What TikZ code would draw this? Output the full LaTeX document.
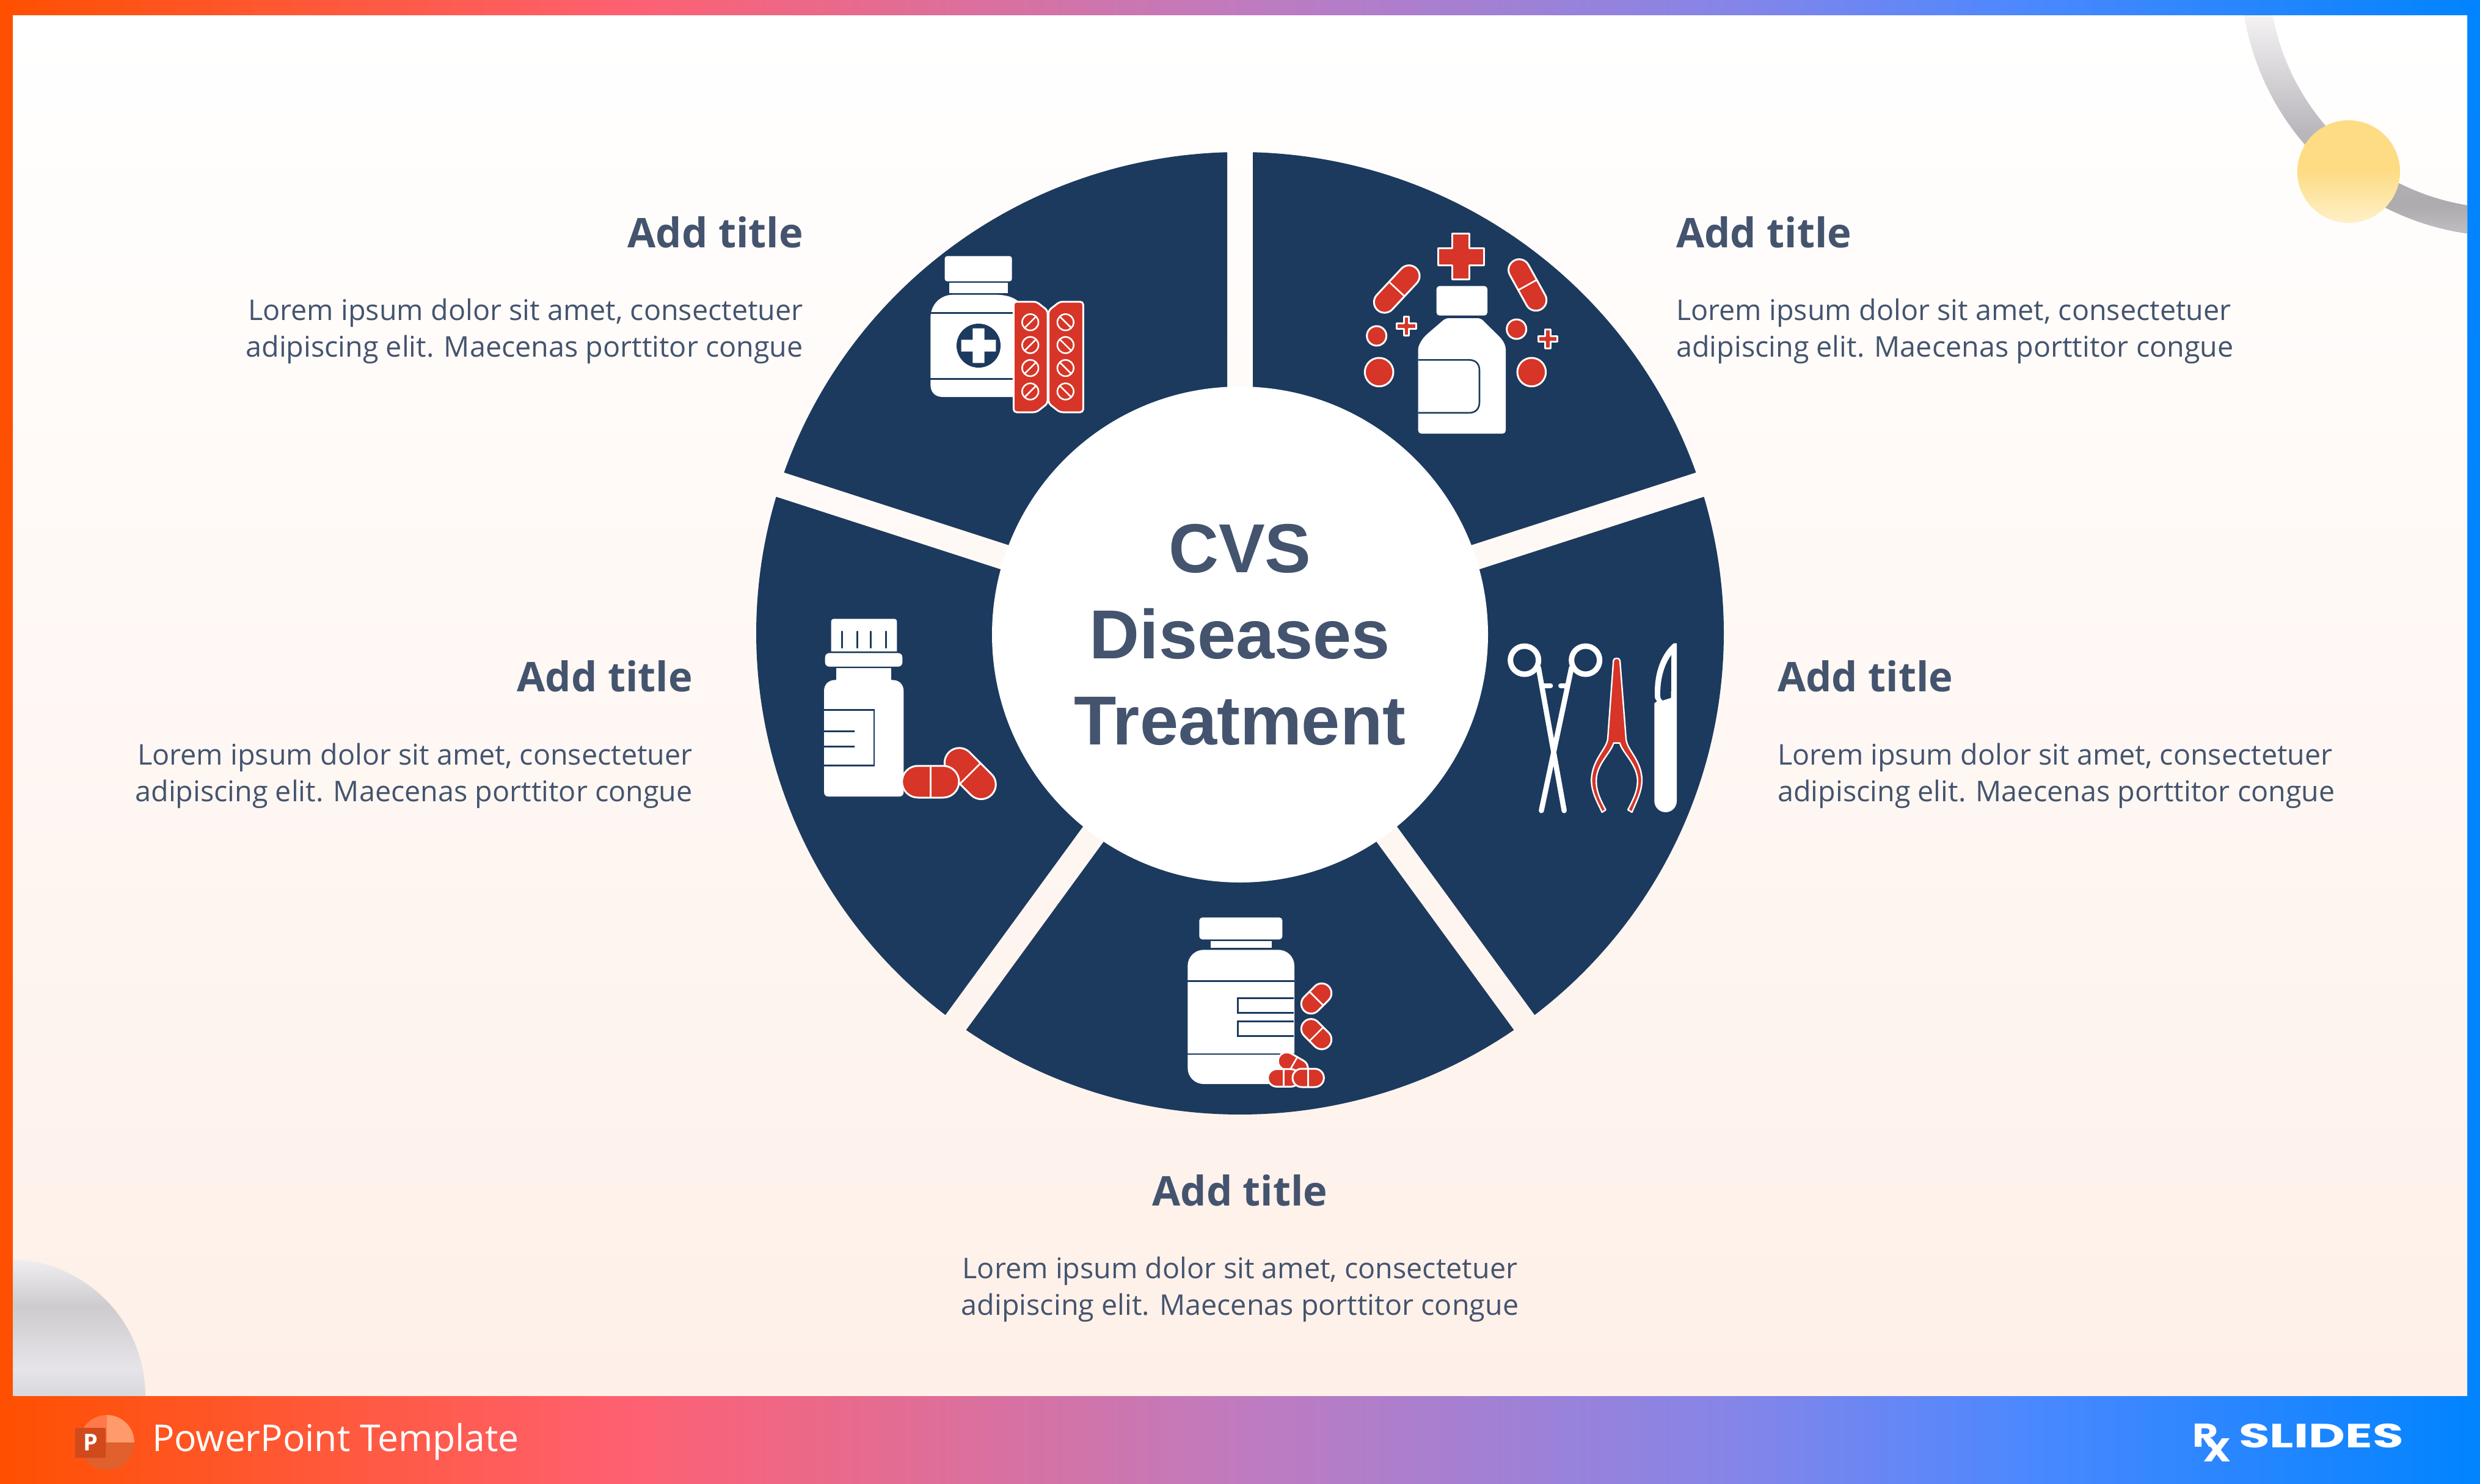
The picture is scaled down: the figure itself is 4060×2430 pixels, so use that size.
\documentclass[tikz,border=0pt]{standalone}
\usepackage{fontspec}
\usepackage{graphicx}
\setmainfont{Open Sans}
\newfontfamily\footfont{Open Sans}
\newfontfamily\logofont{Poppins}
\newfontfamily\hubfont{Liberation Sans}
\definecolor{navy}{HTML}{1C3A5E}
\definecolor{pillred}{HTML}{D63527}
\definecolor{ink}{HTML}{44546E}
\definecolor{fa}{HTML}{FF5000}
\definecolor{fb}{HTML}{FF6070}
\definecolor{fc}{HTML}{C07BBF}
\definecolor{fd}{HTML}{8585E8}
\definecolor{fe}{HTML}{4A88FF}
\definecolor{ff}{HTML}{0084FF}
\definecolor{pagetop}{HTML}{FFFFFF}
\definecolor{pagebot}{HTML}{FEF0E8}
\definecolor{ra}{HTML}{C0BFC2}
\definecolor{rb}{HTML}{ADABAE}
\definecolor{rc}{HTML}{B9B7BC}
\definecolor{rd}{HTML}{FFFDFD}
\definecolor{da}{HTML}{D8D8DC}
\definecolor{db}{HTML}{E6E4E8}
\definecolor{dc}{HTML}{CDCBCE}
\definecolor{dd}{HTML}{F0EEF0}
\definecolor{suna}{HTML}{FDDC84}
\definecolor{sunb}{HTML}{FEF0C8}
\definecolor{ppta}{HTML}{FF9A6A}
\definecolor{pptb}{HTML}{FF7A4A}
\definecolor{pptc}{HTML}{E0602E}
\definecolor{pptd}{HTML}{D04A1C}
\pgfdeclarehorizontalshading{frameshade}{100bp}{color(0bp)=(fa); color(25bp)=(fa); color(37.5bp)=(fb); color(50bp)=(fc); color(60bp)=(fd); color(66bp)=(fe); color(75bp)=(ff); color(100bp)=(ff)}
\pgfdeclareverticalshading{ringshade}{100bp}{color(0bp)=(ra); color(25bp)=(ra); color(30.7bp)=(rb); color(44.7bp)=(rc); color(70.7bp)=(rd); color(100bp)=(rd)}
\pgfdeclareverticalshading{domeshade}{100bp}{color(0bp)=(da); color(25bp)=(da); color(35bp)=(db); color(58bp)=(dc); color(75bp)=(dd); color(100bp)=(dd)}
\pgfdeclareverticalshading{sunshade}{100bp}{color(0bp)=(sunb); color(25bp)=(sunb); color(50bp)=(suna); color(100bp)=(suna)}
\tikzset{
  bodytext/.style={text=ink,font=\fontsize{46.7}{60}\selectfont,inner sep=0pt},
  titletext/.style={text=ink,font=\fontsize{67}{80}\bfseries\selectfont,inner sep=0pt},
  redshape/.style={fill=pillred,draw=white,line width=3pt,line join=round},
  navyline/.style={draw=navy,line width=2.6pt},
  iconwhite/.style={fill=white,draw=none},
  whiteline/.style={draw=white,line width=2.6pt}
}
% capsule: cx cy angle half-straight radius
\newcommand{\capsule}[5]{%
\begin{scope}[shift={(#1,#2)},rotate=#3]
\path[redshape] (-#4,-#5) arc[start angle=-90,end angle=-270,radius=#5] -- (#4,#5) arc[start angle=90,end angle=-90,radius=#5] -- cycle;
\draw[whiteline] (0,-#5) -- (0,#5);
\end{scope}}
% plus sign: [style] cx cy half arm
\newcommand{\plusmark}[5][redshape]{%
\begin{scope}[shift={(#2,#3)}]
\path[#1] (-#5,-#4) -- (#5,-#4) -- (#5,-#5) -- (#4,-#5) -- (#4,#5) -- (#5,#5) -- (#5,#4) -- (-#5,#4) -- (-#5,#5) -- (-#4,#5) -- (-#4,-#5) -- (-#5,-#5) -- cycle;
\end{scope}}
\newcommand{\tablet}[3]{%
\begin{scope}[shift={(#1,#2)}]
\draw[whiteline] (0,0) circle (40);
\draw[whiteline] ({#3*28},-28) -- ({-#3*28},28);
\end{scope}}
\begin{document}
\begin{tikzpicture}[x=1pt,y=1pt,yscale=-1]
\useasboundingbox (0,0) rectangle (4060,2430);
% frame and page
\path[shading=frameshade] (0,0) rectangle (4060,2430);
\path[top color=pagetop,bottom color=pagebot] (21,26) rectangle (4039,2285);
% corner decorations
\begin{scope}
\clip (21,26) rectangle (4039,2285);
\path[shading=ringshade] (4101,-46) ++(175:433) arc[start angle=175,end angle=95,radius=433] -- ++(95:-46) arc[start angle=95,end angle=175,radius=387] -- cycle;
\path[shading=domeshade] (238,2286) arc[start angle=0,end angle=-90,radius=224] -- (14,2286) -- cycle;
\end{scope}
\path[shading=sunshade] (3845,281) circle (84);
% wheel
\begin{scope}[shift={(2030,1037)},yscale=0.995]
\foreach \g in {-90,-18,54,126,198}{
  \pgfmathsetmacro{\m}{\g+36}
  \pgfmathsetmacro{\a}{\g+1.52}
  \pgfmathsetmacro{\b}{\g+70.48}
  \fill[navy] (\m:35.7) -- (\a:792) arc[start angle=\a,end angle=\b,radius=792] -- cycle;
}
\end{scope}
\node[circle,fill=white,minimum size=812pt,inner sep=0pt,align=center,text=ink,font=\hubfont\fontsize{113.5}{141}\bfseries\selectfont] (hub) at (2030,1039) {CVS\\Diseases\\Treatment};
% texts
\node[titletext,anchor=east] (t1) at (1315,380) {Add title};
\node[bodytext,anchor=east,align=right] (b1) at (1315,542) {Lorem ipsum dolor sit amet, consectetuer\\adipiscing elit. Maecenas porttitor congue};
\node[titletext,anchor=west] (t2) at (2744,380) {Add title};
\node[bodytext,anchor=west,align=left] (b2) at (2744,542) {Lorem ipsum dolor sit amet, consectetuer\\adipiscing elit. Maecenas porttitor congue};
\node[titletext,anchor=east] (t3) at (1134,1107) {Add title};
\node[bodytext,anchor=east,align=right] (b3) at (1134,1270) {Lorem ipsum dolor sit amet, consectetuer\\adipiscing elit. Maecenas porttitor congue};
\node[titletext,anchor=west] (t4) at (2910,1107) {Add title};
\node[bodytext,anchor=west,align=left] (b4) at (2910,1270) {Lorem ipsum dolor sit amet, consectetuer\\adipiscing elit. Maecenas porttitor congue};
\node[titletext] (t5) at (2030,1949) {Add title};
\node[bodytext,align=center] (b5) at (2030,2111) {Lorem ipsum dolor sit amet, consectetuer\\adipiscing elit. Maecenas porttitor congue};
% icon top right
\begin{scope}[shift={(2150,340)},scale=1/3]
\path[iconwhite,rounded corners=5pt] (605,385) rectangle (855,530);
\path[iconwhite,rounded corners=5pt] (650,543) -- (822,543) -- (905,625) .. controls (935,655) and (945,680) .. (945,710) -- (945,1110) -- (515,1110) -- (515,710) .. controls (515,680) and (530,650) .. (560,620) -- cycle;
\draw[navyline] (515,748) -- (765,748) .. controls (800,748) and (816,770) .. (816,800) -- (816,955) .. controls (816,985) and (800,1008) .. (765,1008) -- (515,1008);
\plusmark{725}{240}{112}{42}
\plusmark{457}{582}{47}{13}
\plusmark{1152}{645}{47}{13}
\capsule{410}{400}{-47}{88}{52}
\capsule{1052}{380}{61}{85}{52}
\path[redshape] (311,630) circle (48);
\path[redshape] (323,808) circle (70);
\path[redshape] (998,597) circle (48);
\path[redshape] (1072,808) circle (70);
\end{scope}
% icon top left
\begin{scope}[shift={(1480,380)},scale=1/3]
\path[iconwhite,rounded corners=4pt] (200,118) rectangle (530,242);
\path[iconwhite] (222,250) rectangle (510,300);
\path[iconwhite] (240,308) -- (450,308) .. controls (510,308) and (550,325) .. (570,350) -- (540,810) -- (190,810) .. controls (150,810) and (130,785) .. (130,750) -- (130,420) .. controls (130,360) and (175,308) .. (240,308) -- cycle;
\draw[navyline] (132,397) -- (535,397);
\draw[navyline] (130,722) -- (535,722);
\fill[navy] (366,558) circle (108);
\plusmark[iconwhite]{366}{558}{85}{29}
\path[redshape,rounded corners=5pt] (538,342) -- (650,342) -- (705,385) -- (705,842) -- (650,885) -- (538,885) -- cycle;
\path[redshape,rounded corners=5pt] (880,342) -- (765,342) -- (710,385) -- (710,842) -- (765,885) -- (880,885) -- cycle;
\foreach \y in {443,555,668,783}{
  \tablet{620}{\y}{1}
  \tablet{793}{\y}{-1}
}
\end{scope}
% icon right: surgical tools
\begin{scope}[shift={(2430,1020)},scale=1/3]
\draw[white,line width=9pt] (197,183) circle (69);
\draw[white,line width=9pt] (497,183) circle (69);
\draw[white,line width=8.5pt,line cap=round] (266,220) -- (392,922);
\draw[white,line width=8.5pt,line cap=round] (428,220) -- (280,922);
\draw[white,line width=8pt,line cap=round] (295,308) -- (325,308);
\draw[white,line width=8pt,line cap=round] (375,308) -- (405,308);
\path[redshape,line width=2.4pt] (634,185) .. controls (634,170) and (666,170) .. (666,185) -- (696,570) .. controls (700,625) and (770,670) .. (774,770) .. controls (774,830) and (745,880) .. (725,930) -- (705,918) .. controls (735,860) and (755,820) .. (752,765) .. controls (745,690) and (680,640) .. (665,590) -- (635,590) .. controls (620,640) and (555,690) .. (550,765) .. controls (547,820) and (565,860) .. (596,918) -- (578,930) .. controls (555,880) and (525,830) .. (526,770) .. controls (530,670) and (600,620) .. (606,570) -- cycle;
\path[iconwhite] (945,100) -- (945,875) arc[start angle=0,end angle=180,radius=55] -- (835,395) -- (848,385) -- (838,370) .. controls (830,250) and (870,150) .. (930,100) -- cycle;
\fill[navy] (918,158) .. controls (880,210) and (860,290) .. (865,368) -- (875,381) -- (917,368) -- cycle;
\end{scope}
% icon bottom
\begin{scope}[shift={(1900,1480)},scale=1/3]
\path[iconwhite,rounded corners=5pt] (190,67) rectangle (598,175);
\path[iconwhite] (245,183) rectangle (545,217);
\path[iconwhite,rounded corners=26pt] (133,226) rectangle (657,885);
\draw[navyline] (133,380) -- (657,380);
\draw[navyline] (133,738) -- (657,738);
\draw[navyline,line width=3pt] (655,462) -- (380,462) -- (380,535) -- (655,535);
\draw[navyline,line width=3pt] (655,577) -- (380,577) -- (380,650) -- (655,650);
\capsule{765}{465}{-45}{37}{48}
\capsule{765}{640}{45}{37}{48}
\capsule{650}{790}{30}{35}{43}
\capsule{605}{855}{0}{35}{43}
\capsule{725}{855}{0}{32}{45}
\end{scope}
% icon left
\begin{scope}[shift={(1320,990)},scale=1/3]
\path[iconwhite] (122,230) -- (122,85) .. controls (122,75) and (127,70) .. (137,70) -- (430,70) .. controls (440,70) and (445,75) .. (445,85) -- (445,230) -- cycle;
\foreach \x in {175,250,317,392}{\draw[navyline,line cap=round] (\x,132) -- (\x,212);}
\path[iconwhite,rounded corners=7pt] (92,238) rectangle (472,305);
\path[iconwhite] (147,313) rectangle (418,380);
\path[iconwhite] (87,425) .. controls (87,390) and (110,370) .. (145,370) -- (420,370) .. controls (455,370) and (478,390) .. (478,425) -- (478,920) .. controls (478,935) and (470,943) .. (455,943) -- (110,943) .. controls (95,943) and (87,935) .. (87,920) -- cycle;
\draw[navyline] (87,517) -- (333,517) -- (333,790) -- (87,790);
\draw[navyline,line cap=round] (87,622) -- (235,622);
\draw[navyline,line cap=round] (87,697) -- (235,697);
\capsule{805}{830}{45}{76}{72}
\capsule{610}{870}{0}{62}{78}
\end{scope}
% footer
\begin{scope}
\fill[pptb] (175,2362) -- (175,2317) arc[start angle=-90,end angle=-180,radius=45] -- cycle;
\fill[ppta] (175,2362) -- (175,2317) arc[start angle=-90,end angle=0,radius=45] -- cycle;
\fill[pptc] (130,2362) arc[start angle=180,end angle=0,radius=45] -- cycle;
\fill[pptd,rounded corners=2pt] (123,2338) rectangle (173,2387);
\end{scope}
\node[text=white,inner sep=0pt,font=\fontsize{38}{38}\bfseries\selectfont] (ppt) at (148,2362) {P};
\node[text=white,anchor=base west,inner sep=0pt,font=\footfont\fontsize{60.5}{60}\selectfont] (foot) at (249,2376) {PowerPoint Template};
\node[text=white,anchor=base west,inner sep=0pt,font=\logofont\fontsize{54}{54}\bfseries\selectfont] (logorx) at (3589,2369) {\scalebox{1.2}[1]{R}\kern-25pt\raisebox{-24pt}{\scalebox{1.2}[1]{X}}};
\node[text=white,anchor=base west,inner sep=0pt,font=\logofont\fontsize{55}{55}\bfseries\selectfont] (logos) at (3665,2370) {\scalebox{1.5}[1]{SLIDES}};
\end{tikzpicture}
\end{document}
